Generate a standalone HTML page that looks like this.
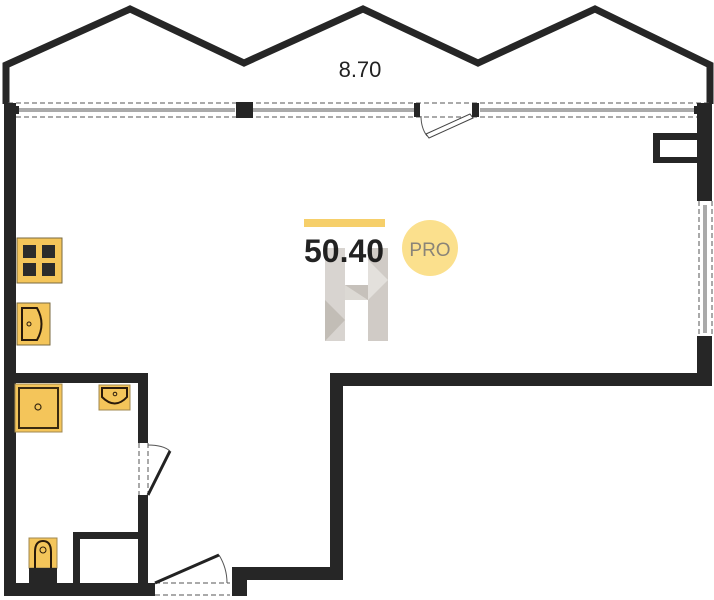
<!DOCTYPE html>
<html><head><meta charset="utf-8"><style>
html,body{margin:0;padding:0;background:#fff;width:714px;height:600px;overflow:hidden}
</style></head><body>
<svg width="714" height="600" viewBox="0 0 714 600" xmlns="http://www.w3.org/2000/svg">
<polyline points="6,104 6,65 130,9 244,63 363,9 478,63 595,9 710,65 710,104" fill="none" stroke="#262626" stroke-width="7" stroke-linejoin="miter"/>
<text x="360" y="77" font-family="Liberation Sans, sans-serif" font-size="22" fill="#222" text-anchor="middle">8.70</text>
<g stroke="#555" stroke-width="1" fill="none">
<line x1="8" y1="103" x2="710" y2="103" stroke-dasharray="5,3"/>
<line x1="8" y1="117" x2="710" y2="117" stroke-dasharray="5,3"/>
<line x1="16" y1="109" x2="235" y2="109"/><line x1="16" y1="111" x2="235" y2="111"/>
<line x1="253" y1="109" x2="414" y2="109"/><line x1="253" y1="111" x2="414" y2="111"/>
<line x1="480" y1="109" x2="697" y2="109"/><line x1="480" y1="111" x2="697" y2="111"/>
<path d="M421,116 Q421,128 427,136"/>
</g>
<polygon points="470,114 473,118 429,138 426,134" fill="#fff" stroke="#444" stroke-width="1"/>
<g fill="#262626">
<rect x="236" y="102" width="17" height="16"/>
<rect x="414" y="103" width="6" height="14"/>
<rect x="472" y="103" width="7" height="14"/>
<rect x="15" y="106" width="4" height="8"/>
<rect x="694" y="106" width="4" height="8"/>
<rect x="4" y="103" width="12" height="493"/>
<rect x="697" y="103" width="15" height="98"/>
<rect x="697" y="336" width="15" height="50"/>
<rect x="653" y="133" width="44" height="30"/>
<rect x="330" y="373" width="382" height="13"/>
<rect x="330" y="373" width="13" height="207"/>
<rect x="232" y="567" width="111" height="13"/>
<rect x="232" y="567" width="15" height="29"/>
<rect x="4" y="373" width="144" height="10"/>
<rect x="138" y="373" width="10" height="70"/>
<rect x="138" y="495" width="10" height="100"/>
<rect x="73" y="532" width="65" height="7"/>
<rect x="73" y="532" width="7" height="55"/>
<rect x="4" y="583" width="151" height="13"/>
</g>
<rect x="660" y="140" width="37" height="17" fill="#fff"/>
<g stroke="#555" stroke-width="1" fill="none">
<line x1="699" y1="201" x2="699" y2="336" stroke-dasharray="5,3"/>
<line x1="712" y1="201" x2="712" y2="336" stroke-dasharray="5,3"/>
<line x1="704" y1="205" x2="704" y2="333"/><line x1="706" y1="205" x2="706" y2="333"/>
<line x1="139" y1="443" x2="139" y2="495" stroke-dasharray="5,3"/>
<line x1="148" y1="443" x2="148" y2="495" stroke-dasharray="5,3"/>
<path d="M148,445 Q163,445 170,451"/>
<line x1="155" y1="583" x2="230" y2="583" stroke-dasharray="5,3"/>
<line x1="155" y1="595" x2="230" y2="595" stroke-dasharray="5,3"/>
<path d="M219,555 Q227,568 227,583"/>
</g>
<line x1="148" y1="495" x2="170" y2="451" stroke="#222" stroke-width="3"/>
<line x1="155" y1="583" x2="219" y2="555" stroke="#222" stroke-width="3"/>
<rect x="17" y="238" width="45" height="45" fill="#f4c55a" stroke="#7a6a40" stroke-width="1"/>
<g fill="#2b2b2b"><rect x="23" y="245" width="13" height="13"/><rect x="42" y="245" width="13" height="13"/><rect x="23" y="263" width="13" height="13"/><rect x="42" y="263" width="13" height="13"/></g>
<rect x="17" y="303" width="33" height="42" fill="#f4c55a" stroke="#7a6a40" stroke-width="1"/>
<path d="M22,308 L37,308 Q46,324 37,340 L22,340 Z" fill="none" stroke="#2a1a0a" stroke-width="2"/>
<circle cx="29" cy="324" r="2" fill="none" stroke="#2a1a0a" stroke-width="1"/>
<rect x="15" y="384" width="47" height="48" fill="#f4c55a" stroke="#a08850" stroke-width="1"/>
<rect x="19" y="388" width="39" height="40" fill="none" stroke="#3a2a10" stroke-width="2"/>
<circle cx="38" cy="407" r="3" fill="none" stroke="#3a2a10" stroke-width="1.2"/>
<rect x="99" y="385" width="31" height="25" fill="#f4c55a" stroke="#a08850" stroke-width="1"/>
<path d="M102,388 L127,388 L127,397 Q115,410 102,397 Z" fill="none" stroke="#2a1a0a" stroke-width="2"/>
<circle cx="115" cy="394" r="1.8" fill="none" stroke="#2a1a0a" stroke-width="1"/>
<rect x="29" y="538" width="28" height="30" fill="#f4c55a" stroke="#a08850" stroke-width="1"/>
<path d="M35,568 L35,552 Q35,541 43,541 Q51,541 51,552 L51,568" fill="none" stroke="#2a1a0a" stroke-width="2"/>
<circle cx="43" cy="550" r="3" fill="none" stroke="#2a1a0a" stroke-width="1"/>
<rect x="29" y="568" width="28" height="15" fill="#262626"/>
<g opacity="0.9">
<rect x="325" y="248" width="20" height="93" fill="#d4d0cb"/>
<rect x="368" y="248" width="20" height="93" fill="#cbc6c0"/>
<rect x="345" y="285" width="23" height="15" fill="#c0bbb4"/>
<polygon points="325,300 345,320 325,341" fill="#bcb6af"/>
<polygon points="368,260 388,280 368,300" fill="#e0ddd9"/>
<polygon points="345,285 368,300 345,300" fill="#d9d5d0"/>
</g>
<rect x="304" y="219" width="81" height="8" fill="#f6cf6a"/>
<text x="304" y="262" font-family="Liberation Sans, sans-serif" font-size="32" font-weight="bold" fill="#111" opacity="0.92">50.40</text>
<circle cx="430" cy="248" r="28" fill="#fbe08d"/>
<text x="430" y="256" font-family="Liberation Sans, sans-serif" font-size="19" fill="#8a8478" text-anchor="middle">PRO</text>
</svg>
</body></html>
